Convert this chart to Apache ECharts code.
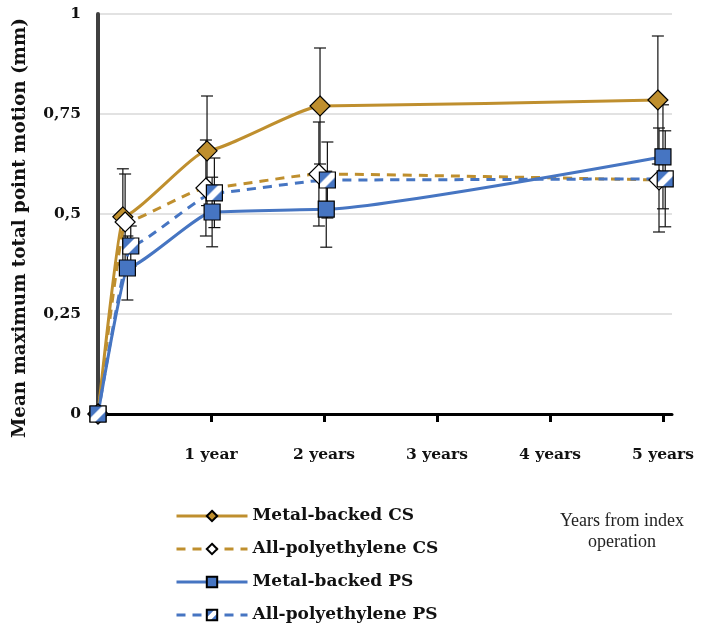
<!DOCTYPE html>
<html>
<head>
<meta charset="utf-8">
<script src="https://cdn.jsdelivr.net/npm/echarts@6/dist/echarts.min.js"></script>
<style>
html,body{margin:0;padding:0;background:#fff;}
#chart{width:718px;height:627px;}
</style>
</head>
<body>
<div id="chart"></div>
<script>
// ---- data ----
const seriesNames = ['Metal-backed CS', 'All-polyethylene CS', 'Metal-backed PS', 'All-polyethylene PS'];
const xTickValues = [1, 2, 3, 4, 5];
const xTickLabels = ['1 year', '2 years', '3 years', '4 years', '5 years'];
const yTickValues = [0, 0.25, 0.5, 0.75, 1];
const yTitle = 'Mean maximum total point motion (mm)';
const xTitle = 'Years from index\noperation';

// x positions (years) as plotted (small offsets in the original)
const mbcsX = [0, 0.22, 0.965, 1.965, 4.955];
const apcsX = [0, 0.24, 0.955, 1.955, 4.965];
const mbpsX = [0, 0.26, 1.01, 2.02, 5.0];
const appsX = [0, 0.29, 1.03, 2.03, 5.02];

// mean values (mm)
const mbcsY = [0, 0.493, 0.658, 0.77, 0.785];
const apcsY = [0, 0.48, 0.565, 0.60, 0.585];
const mbpsY = [0, 0.365, 0.505, 0.512, 0.643];
const appsY = [0, 0.42, 0.553, 0.585, 0.588];

// error bar half-lengths (mm)
const mbcsErr = [0, 0.12, 0.137, 0.145, 0.16];
const apcsErr = [0, 0.12, 0.12, 0.13, 0.13];
const mbpsErr = [0, 0.08, 0.087, 0.095, 0.13];
const appsErr = [0, 0.05, 0.087, 0.095, 0.12];

// ---- chart ----
const GOLD = '#BF8F2E';
const BLUE = '#4675C2';
const serif = 'DejaVu Serif';

function pts(xs, ys) { return xs.map((x, i) => [x, ys[i]]); }
function errPts(xs, ys, es) { return xs.map((x, i) => [x, ys[i], es[i]]); }

const patternFill = new echarts.graphic.LinearGradient(0, 0, 1, 1, [
  { offset: 0, color: BLUE }, { offset: 0.36, color: BLUE },
  { offset: 0.42, color: '#ffffff' }, { offset: 0.62, color: '#ffffff' },
  { offset: 0.68, color: BLUE }, { offset: 1, color: BLUE }
]);

function errorSeries(data) {
  return {
    type: 'custom',
    z: 1,
    silent: true,
    data: data,
    encode: { x: 0, y: 1 },
    renderItem: function (params, api) {
      const x = api.value(0), y = api.value(1), e = api.value(2);
      if (!e) return null;
      const top = api.coord([x, y + e]);
      const bot = api.coord([x, y - e]);
      const cw = 6;
      const st = { stroke: '#111', lineWidth: 1.2 };
      return {
        type: 'group',
        children: [
          { type: 'line', shape: { x1: top[0], y1: top[1], x2: bot[0], y2: bot[1] }, style: st },
          { type: 'line', shape: { x1: top[0] - cw, y1: top[1], x2: top[0] + cw, y2: top[1] }, style: st },
          { type: 'line', shape: { x1: bot[0] - cw, y1: bot[1], x2: bot[0] + cw, y2: bot[1] }, style: st }
        ]
      };
    }
  };
}

function lineSeries(name, data, color, dashed, symbol, size, fill) {
  return {
    name: name,
    type: 'line',
    z: 3,
    data: data,
    smooth: 0.15,
    smoothMonotone: 'x',
    symbol: symbol,
    symbolSize: size,
    showAllSymbol: true,
    lineStyle: { color: color, width: 3, type: dashed ? [9, 7] : 'solid' },
    itemStyle: { color: fill, borderColor: '#000', borderWidth: 1.2, opacity: 1 },
    emphasis: { disabled: true }
  };
}

const chart = echarts.init(document.getElementById('chart'), null, { renderer: 'canvas' });
chart.setOption({
  animation: false,
  backgroundColor: '#fff',
  grid: { left: 98, top: 14, width: 574, height: 400, containLabel: false },
  xAxis: {
    type: 'value',
    min: 0, max: 5.08, interval: 1,
    splitLine: { show: false },
    axisLine: { show: true, lineStyle: { color: '#000', width: 3 } },
    axisTick: { show: true, length: 8, lineStyle: { color: '#000', width: 3 }, customValues: xTickValues },
    axisLabel: {
      customValues: xTickValues,
      formatter: v => xTickLabels[xTickValues.indexOf(Math.round(v))] || '',
      margin: 33,
      color: '#111', fontFamily: serif, fontWeight: 'bold', fontSize: 15.5
    }
  },
  yAxis: {
    type: 'value',
    min: 0, max: 1, interval: 0.25,
    axisLine: { show: true, lineStyle: { color: '#404040', width: 4 } },
    axisTick: { show: false },
    splitLine: { show: true, lineStyle: { color: '#d9d9d9', width: 1.5 } },
    axisLabel: {
      customValues: yTickValues,
      formatter: v => String(v).replace('.', ','),
      margin: 17,
      color: '#111', fontFamily: serif, fontWeight: 'bold', fontSize: 15.5
    }
  },
  legend: {
    data: seriesNames,
    orient: 'vertical',
    left: 175,
    top: 506,
    padding: 0,
    itemWidth: 71,
    itemHeight: 13,
    itemGap: 13,
    selectedMode: false,
    lineStyle: { width: 3 },
    textStyle: { color: '#111', fontFamily: serif, fontWeight: 'bold', fontSize: 17, lineHeight: 20 }
  },
  graphic: [
    {
      type: 'text',
      x: 20, y: 228,
      rotation: Math.PI / 2,
      style: {
        text: yTitle,
        align: 'center',
        verticalAlign: 'middle',
        fontFamily: serif, fontWeight: 'bold', fontSize: 18.3, fill: '#111'
      }
    },
    {
      type: 'text',
      x: 622, y: 511,
      style: {
        text: xTitle,
        align: 'center',
        verticalAlign: 'top',
        fontFamily: 'Liberation Serif', fontSize: 18, lineHeight: 21, fill: '#222'
      }
    }
  ],
  series: [
    errorSeries(errPts(mbcsX, mbcsY, mbcsErr)),
    errorSeries(errPts(apcsX, apcsY, apcsErr)),
    errorSeries(errPts(mbpsX, mbpsY, mbpsErr)),
    errorSeries(errPts(appsX, appsY, appsErr)),
    lineSeries(seriesNames[0], pts(mbcsX, mbcsY), GOLD, false, 'diamond', 20, GOLD),
    lineSeries(seriesNames[1], pts(apcsX, apcsY), GOLD, true, 'diamond', 20, '#ffffff'),
    lineSeries(seriesNames[2], pts(mbpsX, mbpsY), BLUE, false, 'rect', 16, BLUE),
    lineSeries(seriesNames[3], pts(appsX, appsY), BLUE, true, 'rect', 16, patternFill)
  ]
});
</script>
</body>
</html>
